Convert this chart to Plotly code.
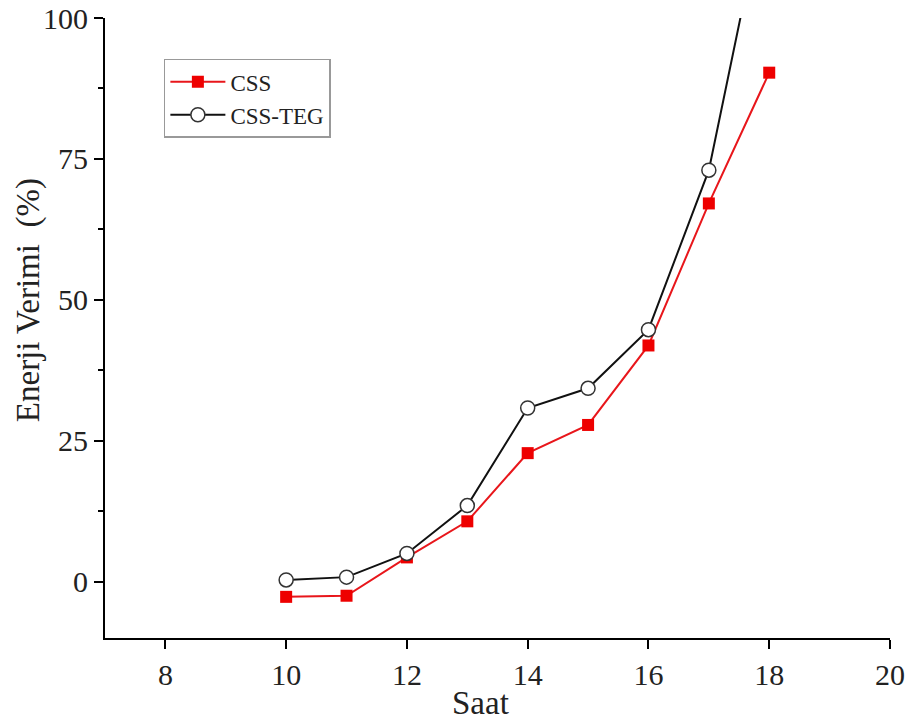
import plotly.graph_objects as go

saat = [10, 11, 12, 13, 14, 15, 16, 17, 18]
css = [-2.7, -2.5, 4.3, 10.7, 22.8, 27.8, 41.9, 67.1, 90.3]
css_teg = [0.3, 0.8, 5.0, 13.5, 30.8, 34.3, 44.7, 73.0, 124.7]

x_tick_vals = [8, 10, 12, 14, 16, 18, 20]
y_tick_vals = [0, 25, 50, 75, 100]
x_title = "Saat"
y_title = "Enerji Verimi&nbsp;&nbsp;(%)"

font_family = "Liberation Serif"
txt = "#222222"

fig = go.Figure()
fig.add_trace(go.Scatter(
    x=saat, y=css, name="CSS", mode="lines+markers",
    line=dict(color="#e8161b", width=2),
    marker=dict(symbol="square", size=12, color="#ee0000", line=dict(width=0)),
))
fig.add_trace(go.Scatter(
    x=saat, y=css_teg, name="CSS-TEG", mode="lines+markers",
    line=dict(color="#111111", width=2),
    marker=dict(symbol="circle", size=14, color="white", line=dict(color="#333333", width=1.5)),
))

fig.update_layout(
    width=912, height=727,
    margin=dict(l=105, r=22, t=18, b=89, autoexpand=False),
    paper_bgcolor="white", plot_bgcolor="white",
    font=dict(family=font_family, color=txt),
    showlegend=True,
    legend=dict(
        x=0.075, y=0.934, xanchor="left", yanchor="top",
        bgcolor="white", bordercolor="#999999", borderwidth=1.5,
        font=dict(family=font_family, size=23, color=txt),
        itemwidth=55, tracegroupgap=0,
    ),
    xaxis=dict(
        range=[7, 20], tickvals=x_tick_vals,
        showline=True, linecolor="black", linewidth=2,
        ticks="outside", ticklen=9, tickwidth=2, tickcolor="black",
        showgrid=False, zeroline=False, automargin=False,
        tickfont=dict(family=font_family, size=30, color=txt),
    ),
    yaxis=dict(
        range=[-10, 100], tickvals=y_tick_vals,
        showline=True, linecolor="black", linewidth=2,
        ticks="outside", ticklen=9, tickwidth=2, tickcolor="black",
        minor=dict(dtick=12.5, tick0=0, ticks="outside", ticklen=5, tickwidth=2, tickcolor="black", showgrid=False),
        showgrid=False, zeroline=False, automargin=False,
        tickfont=dict(family=font_family, size=30, color=txt),
    ),
    annotations=[
        dict(text=x_title, xref="paper", yref="paper", x=0.478, y=-0.105,
             xanchor="center", yanchor="middle", showarrow=False,
             font=dict(family=font_family, size=33, color=txt)),
        dict(text=y_title, xref="paper", yref="paper", x=-0.098, y=0.545,
             xanchor="center", yanchor="middle", showarrow=False, textangle=-90,
             font=dict(family=font_family, size=33, color=txt)),
    ],
)

fig.write_html("out.html", config={"displayModeBar": False},
               post_script="document.body.style.margin='0';")
